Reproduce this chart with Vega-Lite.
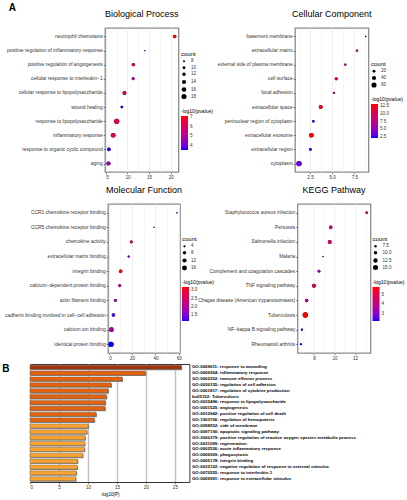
{
  "$schema": "https://vega.github.io/schema/vega-lite/v6.json",
  "padding": {"left": 0, "top": 3, "right": 0, "bottom": 1},
  "config": {
    "font": "Liberation Sans",
    "view": {"stroke": "#8c8c8c", "strokeWidth": 1.3},
    "axis": {"labelFont": "Liberation Sans", "labelFontSize": 4.6, "labelColor": "#333", "tickColor": "#333", "tickSize": 1.8, "tickWidth": 0.6, "labelPadding": 1, "domain": false, "gridColor": "#ebebeb", "gridWidth": 0.8, "title": null},
    "axisY": {"labelFontSize": 4.9},
    "legend": {"titleFont": "Liberation Sans", "labelFont": "Liberation Sans", "titleFontSize": 6, "titleFontWeight": "normal", "titleColor": "#000", "labelFontSize": 4.6, "labelColor": "#333", "gradientLength": 34, "gradientThickness": 7, "rowPadding": 1.5, "titlePadding": 2, "offset": 2, "padding": 0, "layout": {"right": {"anchor": "middle", "direction": "vertical", "margin": 9}}},
    "title": {"font": "Liberation Sans", "fontSize": 9, "fontWeight": "normal", "color": "#000"}
  },
  "datasets": {
    "empty": [],
    "bp": [
      {"term": "neutrophil chemotaxis", "x": 20.9, "count": 12, "logp": 7.1},
      {"term": "positive regulation of inflammatory response", "x": 14.0, "count": 7, "logp": 4.1},
      {"term": "positive regulation of angiogenesis", "x": 11.35, "count": 11, "logp": 5.9},
      {"term": "cellular response to interleukin−1", "x": 11.3, "count": 10, "logp": 4.9},
      {"term": "cellular response to lipopolysaccharide", "x": 9.3, "count": 13, "logp": 6.0},
      {"term": "wound healing", "x": 8.7, "count": 9, "logp": 3.6},
      {"term": "response to lipopolysaccharide", "x": 7.5, "count": 18, "logp": 6.5},
      {"term": "inflammatory response", "x": 6.7, "count": 16, "logp": 6.2},
      {"term": "response to organic cyclic compound", "x": 5.7, "count": 12, "logp": 3.7},
      {"term": "aging", "x": 5.6, "count": 14, "logp": 4.7}
    ],
    "cc": [
      {"term": "basement membrane", "x": 8.78, "count": 5, "logp": 2.2},
      {"term": "extracellular matrix", "x": 7.8, "count": 13, "logp": 7.3},
      {"term": "external side of plasma membrane", "x": 6.48, "count": 12, "logp": 6.6},
      {"term": "cell surface", "x": 5.45, "count": 22, "logp": 12.0},
      {"term": "focal adhesion", "x": 5.2, "count": 13, "logp": 6.0},
      {"term": "extracellular space", "x": 3.7, "count": 35, "logp": 12.6},
      {"term": "perinuclear region of cytoplasm", "x": 2.87, "count": 14, "logp": 2.8},
      {"term": "extracellular exosome", "x": 2.65, "count": 50, "logp": 13.2},
      {"term": "extracellular region", "x": 2.53, "count": 16, "logp": 2.6},
      {"term": "cytoplasm", "x": 1.25, "count": 65, "logp": 3.8}
    ],
    "mf": [
      {"term": "CCR1 chemokine receptor binding", "x": 58.4, "count": 2, "logp": 1.5},
      {"term": "CCR5 chemokine receptor binding", "x": 38.7, "count": 2, "logp": 1.4},
      {"term": "chemokine activity", "x": 19.3, "count": 6, "logp": 3.0},
      {"term": "extracellular matrix binding", "x": 17.1, "count": 4, "logp": 1.6},
      {"term": "integrin binding", "x": 10.2, "count": 9, "logp": 3.2},
      {"term": "calcium−dependent protein binding", "x": 9.4, "count": 6, "logp": 2.3},
      {"term": "actin filament binding", "x": 5.7, "count": 6, "logp": 1.7},
      {"term": "cadherin binding involved in cell−cell adhesion", "x": 4.0, "count": 8, "logp": 1.3},
      {"term": "calcium ion binding", "x": 2.3, "count": 14, "logp": 1.9},
      {"term": "identical protein binding", "x": 2.0, "count": 17, "logp": 1.15}
    ],
    "kegg": [
      {"term": "Staphylococcus aureus infection", "x": 13.14, "count": 8, "logp": 4.4},
      {"term": "Pertussis", "x": 9.63, "count": 10, "logp": 4.4},
      {"term": "Salmonella infection", "x": 9.53, "count": 11, "logp": 4.6},
      {"term": "Malaria", "x": 8.88, "count": 6, "logp": 2.5},
      {"term": "Complement and coagulation cascades", "x": 8.49, "count": 8, "logp": 3.2},
      {"term": "TNF signaling pathway", "x": 8.0, "count": 11, "logp": 4.9},
      {"term": "Chagas disease (American trypanosomiasis)", "x": 7.29, "count": 10, "logp": 4.1},
      {"term": "Tuberculosis", "x": 7.16, "count": 16, "logp": 5.8},
      {"term": "NF−kappa B signaling pathway", "x": 6.83, "count": 7, "logp": 2.4},
      {"term": "Rheumatoid arthritis", "x": 6.73, "count": 7, "logp": 2.3}
    ],
    "bars": [
      {"term": "GO:0009611: response to wounding", "p": 26.1, "grp": "g1"},
      {"term": "GO:0006954: inflammatory response", "p": 19.9, "grp": "g2"},
      {"term": "GO:0002252: immune effector process", "p": 15.9, "grp": "g2"},
      {"term": "GO:0030155: regulation of cell adhesion", "p": 14.0, "grp": "g2"},
      {"term": "GO:0001817: regulation of cytokine production", "p": 13.5, "grp": "g2"},
      {"term": "ko05152: Tuberculosis", "p": 13.2, "grp": "g2"},
      {"term": "GO:0032496: response to lipopolysaccharide", "p": 13.0, "grp": "g2"},
      {"term": "GO:0001525: angiogenesis", "p": 12.95, "grp": "g2"},
      {"term": "GO:0010942: positive regulation of cell death", "p": 11.4, "grp": "g2"},
      {"term": "GO:1903706: regulation of hemopoiesis", "p": 11.1, "grp": "g2"},
      {"term": "GO:0098552: side of membrane", "p": 10.05, "grp": "g3"},
      {"term": "GO:0097190: apoptotic signaling pathway", "p": 9.8, "grp": "g3"},
      {"term": "GO:2000379: positive regulation of reactive oxygen species metabolic process", "p": 9.5, "grp": "g3"},
      {"term": "GO:0031099: regeneration", "p": 9.45, "grp": "g3"},
      {"term": "GO:0002526: acute inflammatory response", "p": 9.4, "grp": "g3"},
      {"term": "GO:0006909: phagocytosis", "p": 9.1, "grp": "g3"},
      {"term": "GO:0005178: integrin binding", "p": 8.2, "grp": "g3"},
      {"term": "GO:0032102: negative regulation of response to external stimulus", "p": 8.15, "grp": "g3"},
      {"term": "GO:0070555: response to interleukin-1", "p": 8.0, "grp": "g3"},
      {"term": "GO:0009991: response to extracellular stimulus", "p": 7.9, "grp": "g3"}
    ]
  },
  "spacing": 1,
  "resolve": {"scale": {"color": "independent", "size": "independent"}, "legend": {"color": "independent", "size": "independent"}},
  "vconcat": [
    {
      "spacing": 0,
      "resolve": {"scale": {"color": "independent", "size": "independent"}, "legend": {"color": "independent", "size": "independent"}},
      "hconcat": [
        {"width": 5, "height": 1, "view": {"stroke": null}, "data": {"name": "empty"}, "mark": "point", "encoding": {}},
        {
          "title": {"text": "A", "anchor": "start", "frame": "bounds", "fontSize": 10, "fontWeight": "bold", "offset": -4, "dx": 3},
          "bounds": "flush",
          "spacing": 116,
          "resolve": {"scale": {"color": "independent", "size": "independent"}, "legend": {"color": "independent", "size": "independent"}},
          "hconcat": [
            {
              "width": 73.5, "height": 144,
              "title": {"text": "Biological Process", "frame": "group", "offset": 9},
              "data": {"name": "bp"},
              "encoding": {
                "x": {"field": "x", "type": "quantitative", "scale": {"domain": [4.8, 21.8], "nice": false, "zero": false}, "axis": {"values": [5, 7.5, 10, 12.5, 15, 17.5, 20], "labelExpr": "datum.value % 5 === 0 ? datum.label : ''", "gridWidth": {"condition": {"test": "datum.value % 5 !== 0", "value": 0.4}, "value": 0.8}, "tickOpacity": {"condition": {"test": "datum.value % 5 !== 0", "value": 0}, "value": 1}, "title": " ", "titleFontSize": 1, "titlePadding": 2}},
                "y": {"field": "term", "type": "nominal", "sort": null, "scale": {"type": "point", "padding": 0.6}},
                "size": {"field": "count", "type": "quantitative", "scale": {"zero": false, "range": [2, 26]}, "legend": {"title": "count", "values": [8, 10, 12, 14, 16, 18], "symbolFillColor": "#000", "symbolStrokeWidth": 0, "symbolOpacity": 1}}
              },
              "layer": [
                {"mark": {"type": "circle", "opacity": 1, "color": "#000"}},
                {"mark": {"type": "circle", "opacity": 1},
                 "encoding": {"color": {"field": "logp", "type": "quantitative", "scale": {"range": ["#0000ff", "#ff0000"], "interpolate": "lab"}, "legend": {"title": "-log10(pvalue)", "titleFontSize": 5, "values": [4, 5, 6, 7]}}}}
              ]
            },
            {
              "width": 73.5, "height": 144,
              "title": {"text": "Cellular Component", "frame": "group", "offset": 9},
              "data": {"name": "cc"},
              "encoding": {
                "x": {"field": "x", "type": "quantitative", "scale": {"domain": [0.8, 9.1], "nice": false, "zero": false}, "axis": {"values": [1.25, 2.5, 3.75, 5, 6.25, 7.5, 8.75], "format": ".1f", "labelExpr": "datum.value % 2.5 === 0 ? datum.label : ''", "gridWidth": {"condition": {"test": "datum.value % 2.5 !== 0", "value": 0.4}, "value": 0.8}, "tickOpacity": {"condition": {"test": "datum.value % 2.5 !== 0", "value": 0}, "value": 1}, "title": " ", "titleFontSize": 1, "titlePadding": 2}},
                "y": {"field": "term", "type": "nominal", "sort": null, "scale": {"type": "point", "padding": 0.6}},
                "size": {"field": "count", "type": "quantitative", "scale": {"zero": false, "range": [2, 28]}, "legend": {"title": "count", "values": [20, 40, 60], "symbolFillColor": "#000", "symbolStrokeWidth": 0, "symbolOpacity": 1}}
              },
              "layer": [
                {"mark": {"type": "circle", "opacity": 1, "color": "#000"}},
                {"mark": {"type": "circle", "opacity": 1},
                 "encoding": {"color": {"field": "logp", "type": "quantitative", "scale": {"range": ["#0000ff", "#ff0000"], "interpolate": "lab"}, "legend": {"title": "-log10(pvalue)", "titleFontSize": 5, "values": [2.5, 5, 7.5, 10, 12.5], "format": ".1f"}}}}
              ]
            }
          ]
        }
      ]
    },
    {
      "spacing": 0,
      "resolve": {"scale": {"color": "independent", "size": "independent"}, "legend": {"color": "independent", "size": "independent"}},
      "hconcat": [
        {"width": 3.5, "height": 1, "view": {"stroke": null}, "data": {"name": "empty"}, "mark": "point", "encoding": {}},
        {
          "bounds": "flush",
          "spacing": 117.5,
          "resolve": {"scale": {"color": "independent", "size": "independent"}, "legend": {"color": "independent", "size": "independent"}},
          "hconcat": [
            {
              "width": 72, "height": 149,
              "title": {"text": "Molecular Function", "frame": "group", "offset": 9},
              "data": {"name": "mf"},
              "encoding": {
                "x": {"field": "x", "type": "quantitative", "scale": {"domain": [-0.6, 61], "nice": false, "zero": false}, "axis": {"values": [0, 10, 20, 30, 40, 50, 60], "labelExpr": "datum.value % 20 === 0 ? datum.label : ''", "gridWidth": {"condition": {"test": "datum.value % 20 !== 0", "value": 0.4}, "value": 0.8}, "tickOpacity": {"condition": {"test": "datum.value % 20 !== 0", "value": 0}, "value": 1}}},
                "y": {"field": "term", "type": "nominal", "sort": null, "scale": {"type": "point", "padding": 0.6}},
                "size": {"field": "count", "type": "quantitative", "scale": {"zero": false, "range": [2, 26]}, "legend": {"title": "count", "values": [4, 8, 12, 16], "symbolFillColor": "#000", "symbolStrokeWidth": 0, "symbolOpacity": 1}}
              },
              "layer": [
                {"mark": {"type": "circle", "opacity": 1, "color": "#000"}},
                {"mark": {"type": "circle", "opacity": 1},
                 "encoding": {"color": {"field": "logp", "type": "quantitative", "scale": {"range": ["#0000ff", "#ff0000"], "interpolate": "lab"}, "legend": {"title": "-log10(pvalue)", "titleFontSize": 5, "values": [1.5, 2, 2.5, 3], "format": ".1f"}}}}
              ]
            },
            {
              "width": 73, "height": 149,
              "title": {"text": "KEGG Pathway", "frame": "group", "offset": 9},
              "data": {"name": "kegg"},
              "encoding": {
                "x": {"field": "x", "type": "quantitative", "scale": {"domain": [6.4, 13.5], "nice": false, "zero": false}, "axis": {"values": [7, 8, 9, 10, 11, 12, 13], "labelExpr": "datum.value % 2 === 0 ? datum.label : ''", "gridWidth": {"condition": {"test": "datum.value % 2 !== 0", "value": 0.4}, "value": 0.8}, "tickOpacity": {"condition": {"test": "datum.value % 2 !== 0", "value": 0}, "value": 1}}},
                "y": {"field": "term", "type": "nominal", "sort": null, "scale": {"type": "point", "padding": 0.6}},
                "size": {"field": "count", "type": "quantitative", "scale": {"zero": false, "range": [2, 28]}, "legend": {"title": "count", "values": [7.5, 10, 12.5, 15], "format": ".1f", "symbolFillColor": "#000", "symbolStrokeWidth": 0, "symbolOpacity": 1}}
              },
              "layer": [
                {"mark": {"type": "circle", "opacity": 1, "color": "#000"}},
                {"mark": {"type": "circle", "opacity": 1},
                 "encoding": {"color": {"field": "logp", "type": "quantitative", "scale": {"range": ["#0000ff", "#ff0000"], "interpolate": "lab"}, "legend": {"title": "-log10(pvalue)", "titleFontSize": 5, "values": [3, 4, 5]}}}}
              ]
            }
          ]
        }
      ]
    },
    {
      "spacing": 0,
      "resolve": {"scale": {"color": "independent", "size": "independent"}, "legend": {"color": "independent", "size": "independent"}},
      "hconcat": [
        {"width": 1, "height": 1, "view": {"stroke": null}, "data": {"name": "empty"}, "mark": "point", "encoding": {}},
        {
          "width": 159.4, "height": 118,
          "title": {"text": "B", "orient": "left", "angle": 0, "anchor": "end", "align": "right", "baseline": "top", "fontSize": 10, "fontWeight": "bold", "offset": 13},
          "view": {"stroke": "#333", "strokeWidth": 1},
          "data": {"name": "bars"},
          "encoding": {
            "y": {"field": "term", "type": "nominal", "sort": null, "scale": {"paddingInner": 0.3, "paddingOuter": 0.2}, "axis": {"orient": "right", "labelFontSize": 4.4, "labelFontWeight": "bold", "labelColor": "#000", "ticks": false, "labelPadding": 2, "labelLimit": 300, "grid": false}},
            "x": {"field": "p", "type": "quantitative", "scale": {"domain": [0, 27.5], "nice": false}, "axis": {"values": [0, 5, 10, 15, 20, 25], "gridValues": [10, 20], "title": "-log10(P)", "titleFontSize": 4.6, "titleFontWeight": "normal", "titlePadding": 2, "domain": true, "domainColor": "#333", "gridColor": "#c4c4c4", "gridWidth": 1.5}}
          },
          "layer": [
            {"mark": {"type": "bar", "color": "#8c8c8c", "xOffset": 0.8, "yOffset": 0.9}},
            {
              "mark": {"type": "bar", "stroke": "#555", "strokeWidth": 0.4},
              "encoding": {"color": {"field": "grp", "type": "nominal", "scale": {"domain": ["g1", "g2", "g3"], "range": ["#a0340b", "#e2620f", "#f8a332"]}, "legend": null}}
            }
          ]
        }
      ]
    }
  ]
}
